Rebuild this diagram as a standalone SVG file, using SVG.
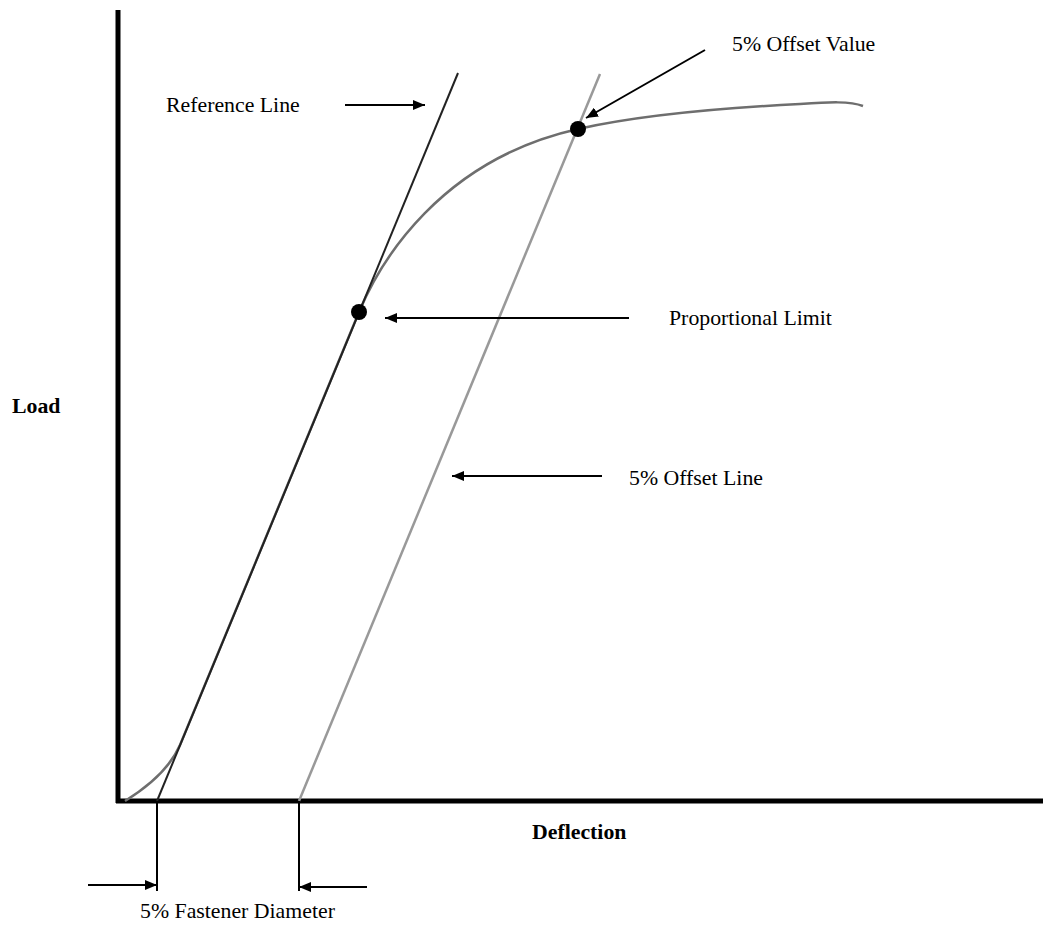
<svg xmlns="http://www.w3.org/2000/svg" width="1046" height="925" viewBox="0 0 1046 925">
<style>
.t{font-family:"Liberation Serif","Times New Roman",serif;font-size:21.8px;fill:#000}
.b{font-weight:bold}
.arr{stroke:#000;stroke-width:2;fill:none;marker-end:url(#ah)}
.dim{stroke:#000;stroke-width:2;fill:none}
</style>
<defs>
<marker id="ah" viewBox="0 0 12 10" refX="12" refY="5" markerWidth="12" markerHeight="10" markerUnits="userSpaceOnUse" orient="auto">
<path d="M0,0 L12,5 L0,10 Z" fill="#000"/>
</marker>
</defs>
<rect width="1046" height="925" fill="#fff"/>
<g id="axes">
<line x1="118" y1="10" x2="118" y2="803" stroke="#000" stroke-width="5"/>
<line x1="116" y1="801" x2="1043" y2="801" stroke="#000" stroke-width="5"/>
</g>
<g id="offset-line"><line x1="299" y1="801" x2="600" y2="74" stroke="#999" stroke-width="2.5"/></g>
<g id="curve"><path d="M125,801 Q167,775 180,745 L359,312 C380,262 440,160 578,129 C640,115 720,108 800,104 C830,102 850,101 863,106" fill="none" stroke="#6e6e6e" stroke-width="2.5"/></g>
<g id="reference-line"><line x1="157" y1="801" x2="458" y2="73" stroke="#222" stroke-width="2"/></g>
<g id="points">
<circle id="proportional-limit-pt" cx="359" cy="312" r="8" fill="#000"/>
<circle id="offset-value-pt" cx="578" cy="129" r="8" fill="#000"/>
</g>
<g id="connectors">
<line class="arr" x1="345" y1="105" x2="425" y2="105"/>
<line class="arr" x1="705" y1="50" x2="586" y2="118"/>
<line class="arr" x1="629" y1="318" x2="385" y2="318"/>
<line class="arr" x1="602" y1="476" x2="452" y2="476"/>
<line class="dim" x1="157" y1="801" x2="157" y2="891"/>
<line class="dim" x1="299" y1="801" x2="299" y2="891"/>
<line class="arr" x1="88" y1="885" x2="157" y2="885"/>
<line class="arr" x1="367" y1="887" x2="299" y2="887"/>
</g>
<g id="labels">
<text class="t" x="166" y="112">Reference Line</text>
<text class="t" x="732" y="51">5% Offset Value</text>
<text class="t" x="669" y="325">Proportional Limit</text>
<text class="t" x="629" y="485">5% Offset Line</text>
<text class="t b" x="12" y="413">Load</text>
<text class="t b" x="532" y="839">Deflection</text>
<text class="t" x="140" y="918">5% Fastener Diameter</text>
</g>
</svg>
